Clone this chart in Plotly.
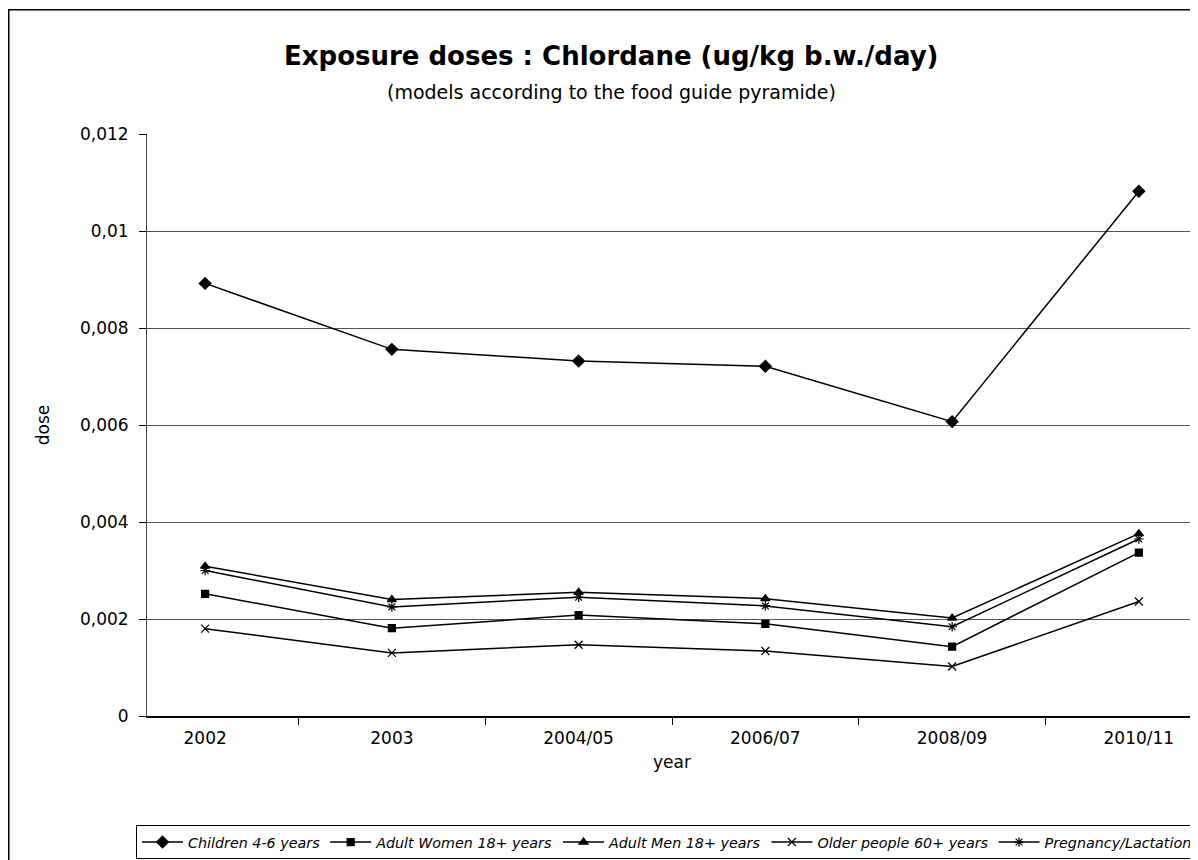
import plotly.graph_objects as go

years = ["2002", "2003", "2004/05", "2006/07", "2008/09", "2010/11"]
children = [0.00892, 0.00756, 0.00732, 0.00721, 0.00607, 0.01082]
women = [0.00252, 0.00181, 0.00208, 0.00190, 0.00143, 0.00337]
men = [0.00309, 0.00240, 0.00255, 0.00242, 0.00202, 0.00376]
older = [0.00180, 0.00130, 0.00147, 0.00134, 0.00102, 0.00236]
pregnancy = [0.00300, 0.00225, 0.00245, 0.00227, 0.00184, 0.00365]
y_ticks = [0, 0.002, 0.004, 0.006, 0.008, 0.01, 0.012]
y_tick_labels = ["0", "0,002", "0,004", "0,006", "0,008", "0,01", "0,012"]

FONT = "DejaVu Sans, Liberation Sans, Arial, sans-serif"
series = [
    ("Children 4-6 years", children, "diamond", 9),
    ("Adult Women 18+ years", women, "square", 7),
    ("Adult Men 18+ years", men, "triangle-up", 8),
    ("Older people 60+ years", older, "x-thin-open", 8),
    ("Pregnancy/Lactation", pregnancy, "asterisk-open", 8),
]

fig = go.Figure()
for name, vals, sym, sz in series:
    fig.add_trace(go.Scatter(
        x=years, y=vals, name=name, mode="lines+markers",
        line=dict(color="black", width=1.5),
        marker=dict(symbol=sym, size=sz, color="black",
                    line=dict(color="black", width=1.2)),
    ))

# page has an 8px body margin; coordinates below are figure coordinates
W, H = 1190, 852
L, R, T, B = 139, 1, 126, 140
pw = W - L - R
ph = H - T - B

def px(x):
    return (x - L) / pw

def py(y):
    return (H - B - y) / ph

fig.update_layout(
    width=W, height=H,
    margin=dict(l=L, r=R, t=T, b=B),
    paper_bgcolor="white", plot_bgcolor="white",
    font=dict(family=FONT, color="black", size=17),
    showlegend=True,
    legend=dict(
        orientation="h", x=px(135), y=py(822), xanchor="left", yanchor="top",
        bordercolor="black", borderwidth=1, bgcolor="white",
        font=dict(family=FONT, size=14.3, style="italic"),
        itemwidth=41, tracegroupgap=0,
    ),
    xaxis=dict(
        showline=True, linecolor="black", linewidth=1.5,
        ticks="outside", tickson="boundaries", ticklen=7, tickcolor="black",
        showgrid=False, mirror=False,
        title=dict(text="year", font=dict(size=17), standoff=9),
        tickfont=dict(size=17), ticklabelstandoff=6,
    ),
    yaxis=dict(
        range=[0, 0.012], tickvals=y_ticks, ticktext=y_tick_labels,
        showline=True, linecolor="#444", linewidth=1,
        ticks="outside", ticklen=7, tickcolor="black",
        showgrid=True, gridcolor="#555", gridwidth=1,
        zeroline=False,
        title=dict(text="dose", font=dict(size=17), standoff=25),
        tickfont=dict(size=17), ticklabelstandoff=7,
    ),
    annotations=[
        dict(text="<b>Exposure doses : Chlordane (ug/kg b.w./day)</b>",
             x=px(603), y=py(47), xref="paper", yref="paper",
             xanchor="center", yanchor="middle", showarrow=False,
             font=dict(size=26, family=FONT)),
        dict(text="(models according to the food guide pyramide)",
             x=px(603), y=py(84), xref="paper", yref="paper",
             xanchor="center", yanchor="middle", showarrow=False,
             font=dict(size=19, family=FONT)),
    ],
    shapes=[
        dict(type="rect", xref="paper", yref="paper",
             x0=px(0.75), x1=px(1210), y0=py(880), y1=py(1),
             line=dict(color="black", width=1.5), fillcolor="rgba(0,0,0,0)",
             layer="below"),
        dict(type="line", xref="paper", yref="paper",
             x0=1, x1=1, y0=0, y1=1, line=dict(color="#888", width=1)),
    ],
)

fig.write_html("out.html")
